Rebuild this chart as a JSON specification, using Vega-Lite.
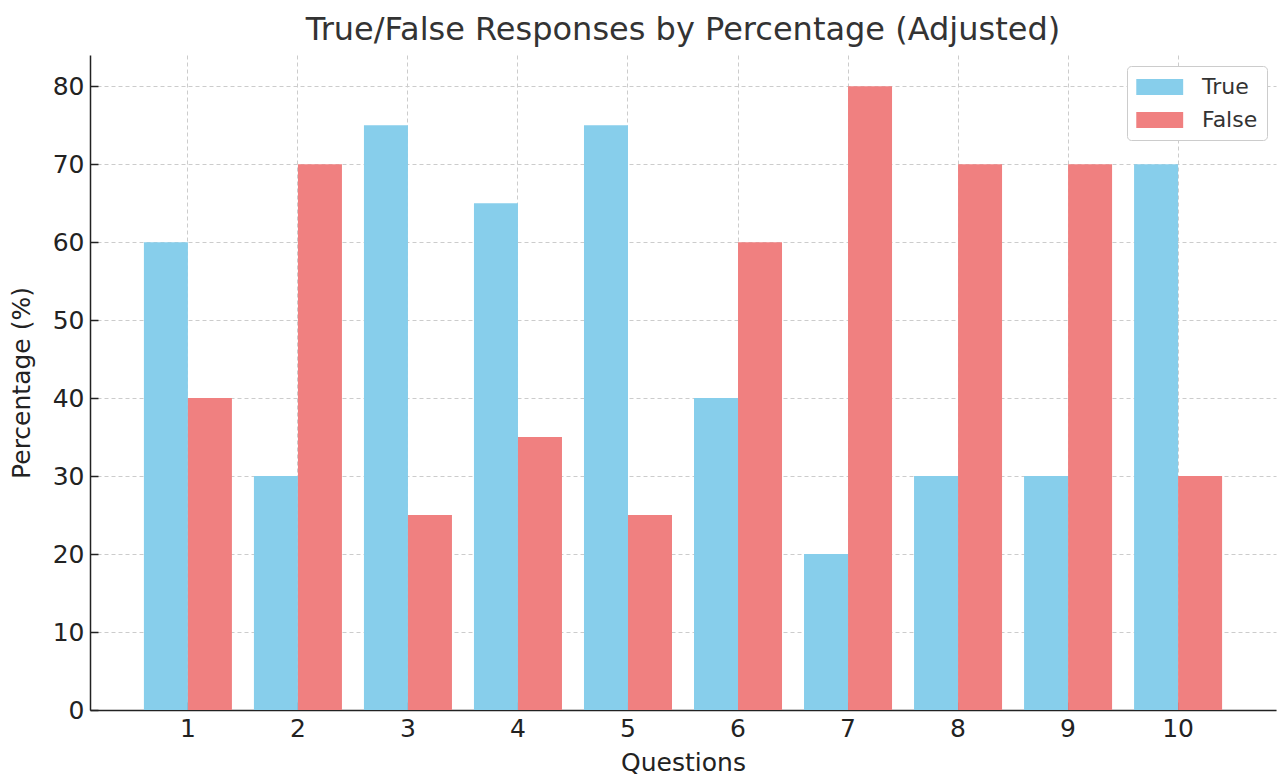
{
  "$schema": "https://vega.github.io/schema/vega-lite/v6.json",
  "width": 1186,
  "height": 655,
  "autosize": {"type": "none"},
  "padding": {"left": 90, "top": 55, "right": 3, "bottom": 68},
  "background": "white",
  "title": {
    "text": "True/False Responses by Percentage (Adjusted)",
    "font": "DejaVu Sans",
    "fontSize": 32,
    "fontWeight": "normal",
    "color": "#333333",
    "offset": 8,
    "anchor": "middle"
  },
  "data": {
    "values": [
      {"Question": "1", "Response": "True", "Percentage": 60},
      {"Question": "1", "Response": "False", "Percentage": 40},
      {"Question": "2", "Response": "True", "Percentage": 30},
      {"Question": "2", "Response": "False", "Percentage": 70},
      {"Question": "3", "Response": "True", "Percentage": 75},
      {"Question": "3", "Response": "False", "Percentage": 25},
      {"Question": "4", "Response": "True", "Percentage": 65},
      {"Question": "4", "Response": "False", "Percentage": 35},
      {"Question": "5", "Response": "True", "Percentage": 75},
      {"Question": "5", "Response": "False", "Percentage": 25},
      {"Question": "6", "Response": "True", "Percentage": 40},
      {"Question": "6", "Response": "False", "Percentage": 60},
      {"Question": "7", "Response": "True", "Percentage": 20},
      {"Question": "7", "Response": "False", "Percentage": 80},
      {"Question": "8", "Response": "True", "Percentage": 30},
      {"Question": "8", "Response": "False", "Percentage": 70},
      {"Question": "9", "Response": "True", "Percentage": 30},
      {"Question": "9", "Response": "False", "Percentage": 70},
      {"Question": "10", "Response": "True", "Percentage": 70},
      {"Question": "10", "Response": "False", "Percentage": 30}
    ]
  },
  "mark": {"type": "bar"},
  "encoding": {
    "x": {
      "field": "Question",
      "type": "ordinal",
      "sort": ["1", "2", "3", "4", "5", "6", "7", "8", "9", "10"],
      "scale": {"paddingInner": 0.2, "paddingOuter": 0.49},
      "axis": {
        "title": "Questions",
        "labelAngle": 0,
        "bandPosition": 0.5,
        "grid": true,
        "gridDash": [4, 3],
        "gridColor": "#cccccc",
        "gridWidth": 1,
        "tickSize": -8,
        "tickColor": "#222222",
        "tickWidth": 1.5,
        "domainColor": "#222222",
        "domainWidth": 1.5,
        "labelFont": "DejaVu Sans",
        "labelFontSize": 25,
        "labelColor": "#222222",
        "labelPadding": 14,
        "titleFont": "DejaVu Sans",
        "titleFontSize": 25,
        "titleFontWeight": "normal",
        "titleColor": "#222222",
        "titlePadding": 9
      }
    },
    "xOffset": {"field": "Response", "type": "nominal", "sort": ["True", "False"], "scale": {"paddingInner": 0, "paddingOuter": 0}},
    "y": {
      "field": "Percentage",
      "type": "quantitative",
      "scale": {"domain": [0, 84], "nice": false},
      "axis": {
        "title": "Percentage (%)",
        "values": [0, 10, 20, 30, 40, 50, 60, 70, 80],
        "grid": true,
        "gridDash": [4, 3],
        "gridColor": "#cccccc",
        "gridWidth": 1,
        "tickSize": -8,
        "tickColor": "#222222",
        "tickWidth": 1.5,
        "domainColor": "#222222",
        "domainWidth": 1.5,
        "labelFont": "DejaVu Sans",
        "labelFontSize": 25,
        "labelColor": "#222222",
        "labelPadding": 14,
        "titleFont": "DejaVu Sans",
        "titleFontSize": 25,
        "titleFontWeight": "normal",
        "titleColor": "#222222",
        "titlePadding": 18
      }
    },
    "color": {
      "field": "Response",
      "type": "nominal",
      "sort": ["True", "False"],
      "scale": {"domain": ["True", "False"], "range": ["#87CEEB", "#F08080"]},
      "legend": {
        "title": null,
        "orient": "none",
        "legendX": 1037,
        "legendY": 11,
        "fillColor": "white",
        "strokeColor": "#cccccc",
        "cornerRadius": 4,
        "padding": 9,
        "symbolType": "M-1,-0.68H3V0.68H-1Z",
        "symbolSize": 550,
        "symbolStrokeWidth": 0,
        "symbolOpacity": 1,
        "labelFont": "DejaVu Sans",
        "labelFontSize": 22,
        "labelColor": "#333333",
        "labelOffset": 42,
        "rowPadding": 10
      }
    }
  },
  "config": {
    "view": {"stroke": null},
    "axis": {"gridOpacity": 1}
  }
}
